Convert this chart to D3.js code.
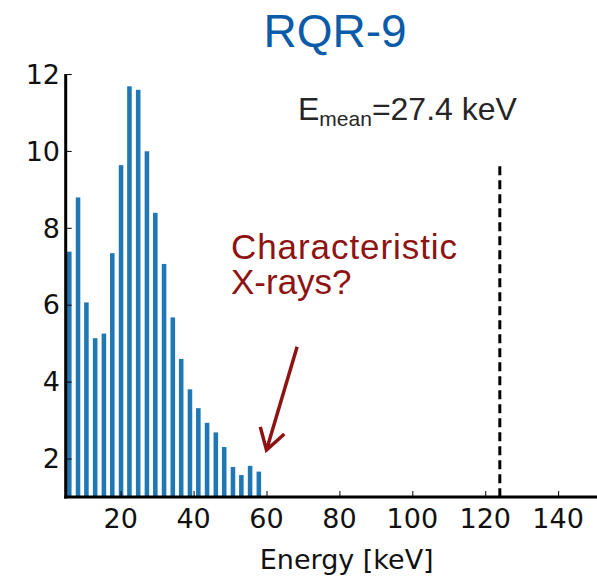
<!DOCTYPE html>
<html>
<head>
<meta charset="utf-8">
<script src="https://cdn.jsdelivr.net/npm/d3@7"></script>
<style>
  body { margin: 0; background: #fff; }
  svg { display: block; }
</style>
</head>
<body>
<div id="chart"></div>
<script>
// Spectrum bins (keV) and counts
const energies = [5.9, 8.3, 10.6, 13.0, 15.4, 17.7, 20.1, 22.4, 24.8, 27.2, 29.5, 31.9,
                  34.3, 36.6, 39.0, 41.3, 43.7, 46.1, 48.4, 50.8, 53.1, 55.5, 57.9];
const counts = [7.38, 8.79, 6.06, 5.13, 5.25, 7.34, 9.63, 11.68, 11.59, 9.99, 8.39, 7.06,
                5.67, 4.59, 3.80, 3.31, 2.93, 2.68, 2.30, 1.78, 1.57, 1.81, 1.66];
const xTicks = [20, 40, 60, 80, 100, 120, 140];
const yTicks = [2, 4, 6, 8, 10, 12];
const kvpLine = { energy: 124, top: 9.6 };
const arrowPts = { from: [68.4, 4.91], to: [60.0, 2.22] };

const W = 597, H = 578;
const svg = d3.select('#chart').append('svg')
    .attr('width', W)
    .attr('height', H);

// Scales
const x = d3.scaleLinear().domain([5, 150]).range([66, 594.6]);
const y = d3.scaleLinear().domain([1, 12]).range([497, 74]);
const barW = x(5 + 1.25) - x(5);

// Bars
svg.append('g')
    .selectAll('rect')
    .data(energies)
    .join('rect')
    .attr('x', d => x(d) - barW / 2)
    .attr('y', (d, i) => y(counts[i]))
    .attr('width', barW)
    .attr('height', (d, i) => y(1) - y(counts[i]))
    .attr('fill', '#1f77b4');

// Dashed vertical line
svg.append('line')
    .attr('x1', x(kvpLine.energy)).attr('x2', x(kvpLine.energy))
    .attr('y1', y(kvpLine.top)).attr('y2', y(1))
    .attr('stroke', '#000')
    .attr('stroke-width', 3)
    .attr('stroke-dasharray', '9,5');

// Axes (ticks point inward)
const xAxis = svg.append('g')
    .attr('transform', `translate(0,${y(1)})`)
    .call(d3.axisTop(x).tickValues(xTicks).tickSize(6).tickFormat(''));
xAxis.select('.domain').remove();
xAxis.selectAll('line').attr('stroke', '#000').attr('stroke-width', 1);

const yAxis = svg.append('g')
    .attr('transform', `translate(${x(5) - 0.3},0)`)
    .call(d3.axisRight(y).tickValues(yTicks).tickSize(6).tickFormat(''));
yAxis.select('.domain').remove();
yAxis.selectAll('line').attr('stroke', '#000').attr('stroke-width', 1);

// Spines
svg.append('line')
    .attr('x1', x(5) - 0.3).attr('x2', x(5) - 0.3)
    .attr('y1', y(12)).attr('y2', y(1) + 1.5)
    .attr('stroke', '#000').attr('stroke-width', 3);
svg.append('line')
    .attr('x1', x(5) - 1.8).attr('x2', W)
    .attr('y1', y(1)).attr('y2', y(1))
    .attr('stroke', '#000').attr('stroke-width', 3);

// Tick labels
svg.append('g')
    .selectAll('text')
    .data(xTicks)
    .join('text')
    .attr('x', d => x(d))
    .attr('y', 528)
    .attr('text-anchor', 'middle')
    .attr('font-family', 'DejaVu Sans')
    .attr('font-size', 27)
    .attr('fill', '#111')
    .text(d => d);

svg.append('g')
    .selectAll('text')
    .data(yTicks)
    .join('text')
    .attr('x', 60)
    .attr('y', d => y(d))
    .attr('dy', '0.36em')
    .attr('text-anchor', 'end')
    .attr('font-family', 'DejaVu Sans')
    .attr('font-size', 27)
    .attr('fill', '#111')
    .text(d => d);

// Axis label
svg.append('text')
    .attr('x', 346.7)
    .attr('y', 569)
    .attr('text-anchor', 'middle')
    .attr('font-family', 'DejaVu Sans')
    .attr('font-size', 27)
    .attr('fill', '#111')
    .text('Energy [keV]');

// Title
svg.append('text')
    .attr('x', 335)
    .attr('y', 46.5)
    .attr('text-anchor', 'middle')
    .attr('font-family', 'Liberation Sans, Arial, sans-serif')
    .attr('font-size', 46)
    .attr('fill', '#0b5ca8')
    .text('RQR-9');

// E_mean label
const emean = svg.append('text')
    .attr('x', 298)
    .attr('y', 120)
    .attr('font-family', 'Liberation Sans, Arial, sans-serif')
    .attr('font-size', 32)
    .attr('fill', '#262626');
emean.append('tspan').text('E');
emean.append('tspan').attr('font-size', 21).attr('dy', 6).text('mean');
emean.append('tspan').attr('dy', -6).text('=27.4 keV');

// Annotation
const red = '#8e1414';
const note = svg.append('g')
    .attr('font-family', 'Liberation Sans, Arial, sans-serif')
    .attr('font-size', 35)
    .attr('fill', red);
note.append('text')
    .attr('x', 231).attr('y', 258.5)
    .attr('textLength', 226).attr('lengthAdjust', 'spacing')
    .text('Characteristic');
note.append('text')
    .attr('x', 231).attr('y', 294)
    .text('X-rays?');

// Arrow
const p0 = [x(arrowPts.from[0]), y(arrowPts.from[1])];
const p1 = [x(arrowPts.to[0]), y(arrowPts.to[1])];
const ang = Math.atan2(p0[1] - p1[1], p0[0] - p1[0]);
const headLen = 24, spread = 0.55;
const h1 = [p1[0] + headLen * Math.cos(ang - spread), p1[1] + headLen * Math.sin(ang - spread)];
const h2 = [p1[0] + headLen * Math.cos(ang + spread), p1[1] + headLen * Math.sin(ang + spread)];
svg.append('path')
    .attr('d', `M${p0}L${p1}M${h1}L${p1}L${h2}`)
    .attr('fill', 'none')
    .attr('stroke', red)
    .attr('stroke-width', 3.5)
    .attr('stroke-linejoin', 'miter')
    .attr('stroke-linecap', 'butt');
</script>
</body>
</html>
